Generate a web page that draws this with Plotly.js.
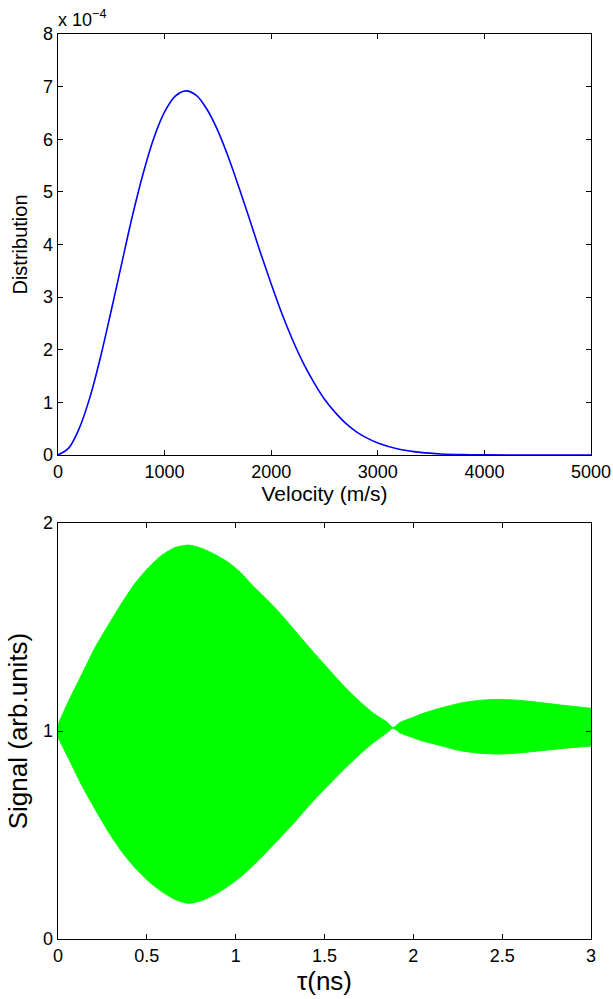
<!DOCTYPE html>
<html>
<head>
<meta charset="utf-8">
<script src="https://cdn.plot.ly/plotly-3.0.1.min.js"></script>
<style>html,body{margin:0;padding:0;background:#fff;}#chart{width:613px;height:999px;}</style>
</head>
<body>
<div id="chart"></div>
<script>
// Top panel: velocity distribution (values in units of 1e-4)
const velocity = [0,100,200,300,400,500,600,700,800,900,1000,1100,1200,1300,1400,1500,1600,1700,1800,1900,2000,2100,2200,2300,2400,2500,2600,2700,2800,2900,3000,3200,3400,3600,3800,4000,4500,5000];
const distribution = [0,0.13,0.51,1.10,1.87,2.75,3.66,4.56,5.36,6.03,6.52,6.82,6.92,6.83,6.56,6.16,5.65,5.07,4.46,3.84,3.25,2.69,2.19,1.75,1.38,1.06,0.81,0.60,0.44,0.32,0.23,0.11,0.05,0.02,0.008,0.003,0,0];
const topXTicks = [0,1000,2000,3000,4000,5000];
const topYTicks = [0,1,2,3,4,5,6,7,8];

// Bottom panel: signal envelope read from the dense oscillation
const tau = [0,0.058,0.133,0.208,0.284,0.359,0.434,0.509,0.584,0.659,0.734,0.81,0.885,0.96,1.03,1.10,1.176,1.251,1.326,1.401,1.476,1.551,1.627,1.701,1.776,1.852,1.886,1.927,2.0,2.04,2.152,2.265,2.377,2.49,2.603,2.715,2.828,3.0];
const signalUpper = [1.03,1.141,1.27,1.40,1.51,1.615,1.71,1.785,1.845,1.882,1.894,1.878,1.848,1.81,1.76,1.695,1.632,1.565,1.49,1.415,1.342,1.27,1.20,1.14,1.085,1.042,1.016,1.042,1.066,1.08,1.11,1.134,1.148,1.152,1.147,1.137,1.125,1.109];
const signalLower = [0.97,0.87,0.74,0.625,0.515,0.42,0.342,0.278,0.228,0.19,0.171,0.185,0.215,0.255,0.30,0.355,0.42,0.488,0.556,0.63,0.70,0.765,0.83,0.89,0.945,0.992,1.014,0.99,0.968,0.955,0.93,0.905,0.893,0.889,0.895,0.905,0.915,0.928];
const botXTicks = [0,0.5,1,1.5,2,2.5,3];
const botYTicks = [0,1,2];

const W = 613, H = 999;
const FONT = 'Liberation Sans, Arial, Helvetica, sans-serif';
const xDom = [58/W, 591/W];
const topDom = [(H-455)/H, (H-34)/H];
const botDom = [(H-939)/H, (H-523)/H];

const axisCommon = {
  showline: true, linecolor: '#000', linewidth: 1.3, mirror: 'ticks',
  ticks: 'inside', ticklen: 5, tickwidth: 1, tickcolor: '#000',
  showgrid: false, zeroline: false,
  tickfont: {family: FONT, size: 18, color: '#000'},
  automargin: false
};

const traces = [
  {x: velocity, y: distribution, type: 'scatter', mode: 'lines', line: {color: '#0000ff', width: 1.6, shape: 'spline', smoothing: 1}, xaxis: 'x', yaxis: 'y', hoverinfo: 'skip'},
  {x: tau, y: signalLower, type: 'scatter', mode: 'lines', line: {color: '#00ff00', width: 1, shape: 'spline', smoothing: 0.5}, xaxis: 'x2', yaxis: 'y2', hoverinfo: 'skip'},
  {x: tau, y: signalUpper, type: 'scatter', mode: 'lines', fill: 'tonexty', fillcolor: '#00ff00', line: {color: '#00ff00', width: 1, shape: 'spline', smoothing: 0.5}, xaxis: 'x2', yaxis: 'y2', hoverinfo: 'skip'}
];

const layout = {
  width: W, height: H,
  margin: {l: 0, r: 0, t: 0, b: 0},
  paper_bgcolor: '#fff', plot_bgcolor: '#fff',
  showlegend: false,
  font: {family: FONT, color: '#000'},
  xaxis: Object.assign({}, axisCommon, {
    domain: xDom, anchor: 'y', range: [0, 5000], tickvals: topXTicks, ticktext: topXTicks.map(String),
    title: {text: 'Velocity (m/s)', font: {family: FONT, size: 21, color: '#000'}, standoff: 0}
  }),
  yaxis: Object.assign({}, axisCommon, {
    domain: topDom, anchor: 'x', range: [0, 8], tickvals: topYTicks, ticktext: topYTicks.map(String),
    title: {text: 'Distribution', font: {family: FONT, size: 20, color: '#000'}, standoff: 10}
  }),
  xaxis2: Object.assign({}, axisCommon, {
    domain: xDom, anchor: 'y2', range: [0, 3], tickvals: botXTicks, ticktext: botXTicks.map(String),
    title: {text: 'τ(ns)', font: {family: FONT, size: 26, color: '#000'}, standoff: 0}
  }),
  yaxis2: Object.assign({}, axisCommon, {
    domain: botDom, anchor: 'x2', range: [0, 2], tickvals: botYTicks, ticktext: botYTicks.map(String),
    title: {text: 'Signal (arb.units)', font: {family: FONT, size: 26, color: '#000'}, standoff: 8}
  }),
  annotations: [
    {xref: 'paper', yref: 'paper', x: 56/W, y: (H-32)/H, xanchor: 'left', yanchor: 'bottom',
     text: 'x 10<sup>−4</sup>', showarrow: false, font: {family: FONT, size: 18, color: '#000'}}
  ]
};

Plotly.newPlot('chart', traces, layout, {staticPlot: true, displayModeBar: false});
</script>
</body>
</html>
